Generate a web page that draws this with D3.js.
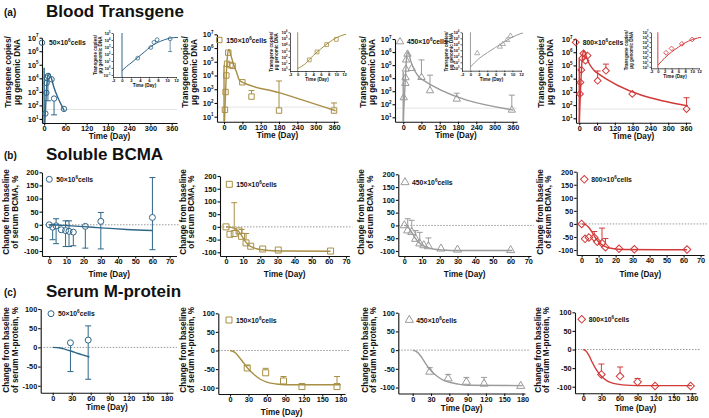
<!DOCTYPE html>
<html><head><meta charset="utf-8">
<script src="https://cdn.jsdelivr.net/npm/d3@7"></script>
<style>body{margin:0;background:#fff}</style>
</head><body>
<svg id="chart" width="709" height="418" xmlns="http://www.w3.org/2000/svg"></svg>
<script>
// ---------------- DATA ----------------
const doseLabels = ["50", "150", "450", "800"];
const doseColors = ["#2e6688", "#a88f45", "#9b9b9b", "#d23a3a"];
const doseMarkers = ["circle", "square", "triangle", "diamond"];

// (a) Blood transgene, copies/µg genomic DNA
const bt50Day = [3.5, 6.4, 7.1, 7.8, 10.7, 21, 28, 56];
const bt50Val = [25, 850, 4500, 11000, 15000, 8500, 320, 55];
const bt50Up  = [null, null, null, null, null, null, null, null];
const bt50Low = [null, null, null, null, 220, null, 20, null];
const bt50FitDay = [0, 1, 2, 3.5, 5, 6.3, 7.5, 8.5, 10, 12, 15, 20, 28, 40, 57];
const bt50FitVal = [0.4, 1.6, 5, 32, 200, 1000, 3200, 6300, 14000, 23000, 22000, 11000, 2000, 320, 40];
const bt50Peak = 60000;

const bt150Day = [3, 5, 7.5, 10, 14, 21, 28, 60, 90, 180, 360];
const bt150Val = [32, 630, 10000, 71000, 460000, 58000, 50000, 3200, 290, 28, 28];
const bt150Up  = [null, null, null, null, null, null, null, null, 800, 4000, 100];
const bt150Low = [null, null, null, null, null, null, null, null, null, null, null];
const bt150FitDay = [0, 2, 4, 6, 8, 10, 12, 16, 22, 30, 40, 52, 180, 365];
const bt150FitVal = [1.3, 8, 160, 2000, 20000, 126000, 400000, 800000, 316000, 79000, 20000, 4000, 560, 27];
const bt150Peak = 56000;

const bt450Day = [1.6, 7, 7.7, 8.7, 9.5, 14, 28, 60, 88, 176, 357];
const bt450Val = [320, 4000, 11000, 50000, 250000, 700000, 56000, 11500, 1100, 250, 36];
const bt450Up  = [null, null, null, null, null, null, null, 250000, 17000, 700, 500];
const bt450Low = [null, null, null, null, null, null, null, null, null, null, null];
const bt450FitDay = [0, 2, 4, 6, 8, 10, 12, 14, 18, 25, 35, 45, 55, 362];
const bt450FitVal = [1.6, 40, 400, 3200, 25000, 160000, 630000, 1000000, 800000, 200000, 50000, 20000, 10000, 36];
const bt450Peak = 30000;

const bt800Day = [2.4, 4, 7, 10, 14, 21, 28, 62, 90, 179, 362];
const bt800Val = [700, 5200, 46000, 350000, 800000, 230000, 560000, 7000, 40000, 700, 50];
const bt800Up  = [null, null, null, null, null, null, null, 38000, 126000, null, 360];
const bt800Low = [null, null, null, null, null, null, null, null, null, null, null];
const bt800FitDay = [0, 2, 4, 6, 8, 10, 13, 17, 22, 30, 40, 54, 367];
const bt800FitVal = [2, 63, 1000, 10000, 80000, 316000, 1000000, 1260000, 630000, 200000, 80000, 34000, 85];
const bt800Peak = 316000;

// (b) Soluble BCMA, % change from baseline
const sb50Day = [0, 2, 4, 7, 9.5, 11.5, 14, 21, 30, 60];
const sb50Val = [0, -9, -4, -19, -22, -25, -28, -6, 13, 28];
const sb50Up  = [null, null, 23, null, 15, 15, null, null, 47, 180];
const sb50Low = [null, -57, -72, null, -83, -83, -80, -89, -92, -95];
const sb50FitDay = [0, 5, 10, 20, 30, 45, 60];
const sb50FitVal = [0, -1, -3, -7, -12, -18, -22];

const sb150Day = [0, 2.3, 4.8, 7.6, 9.1, 11.7, 14.4, 21.4, 30.5, 61];
const sb150Val = [0, -29, -26, -16, -37, -63, -76, -87, -91, -95];
const sb150Up  = [null, null, 95, null, -10, -26, null, null, null, null];
const sb150Low = [null, null, null, null, null, null, null, null, null, null];
const sb150FitDay = [0, 3, 5, 7, 9, 11, 13, 16, 20, 25, 35, 61];
const sb150FitVal = [0, -2, -6, -15, -33, -55, -70, -82, -89, -93, -95, -96];

const sb450Day = [0, 1.9, 4.2, 6.4, 8.7, 11, 13.6, 20.7, 30, 60];
const sb450Val = [0, -20, -26, -53, -71, -78, -82, -91, -95, -97];
const sb450Up  = [null, 26, 20, -20, -27, null, -49, null, null, null];
const sb450Low = [null, null, null, null, null, null, null, null, null, null];
const sb450FitDay = [0, 2, 4, 6, 8, 10, 13, 17, 22, 30, 61];
const sb450FitVal = [0, -5, -25, -48, -65, -76, -86, -93, -96, -98, -98];

const sb800Day = [0, 2, 4.3, 7.4, 9.2, 12, 14, 22, 31, 62];
const sb800Val = [0, -57, -52, -52, -68, -74, -89, -95, -97, -98];
const sb800Up  = [null, null, null, -29, null, -16, -56, null, null, null];
const sb800Low = [null, null, null, null, null, null, null, null, null, null];
const sb800FitDay = [0, 2, 4, 6, 8, 10, 12, 15, 18, 25, 62];
const sb800FitVal = [0, -2, -12, -30, -52, -68, -80, -90, -94, -98, -99];

// (c) Serum M-protein, % change from baseline
const mp50Day = [28, 56];
const mp50Val = [12, 19];
const mp50Up  = [null, 56];
const mp50Low = [-63, -83];
const mp50FitDay = [0, 10, 20, 30, 40, 50, 58];
const mp50FitVal = [0, -1, -5, -10, -16, -21, -25];

const mp150Day = [28, 58, 87, 117, 174];
const mp150Val = [-47, -60, -82, -97, -97];
const mp150Up  = [-41, -48, -70, null, -70];
const mp150Low = [null, null, null, null, null];
const mp150FitDay = [0, 8, 15, 22, 30, 40, 50, 60, 75, 90, 180];
const mp150FitVal = [0, -5, -18, -33, -50, -66, -78, -85, -90, -92, -92];

const mp450Day = [28, 58, 88, 117, 177];
const mp450Val = [-58, -76, -85, -90, -96];
const mp450Up  = [-47, -65, -73, -73, null];
const mp450Low = [null, null, null, null, null];
const mp450FitDay = [0, 8, 15, 22, 30, 40, 50, 60, 75, 90, 180];
const mp450FitVal = [0, -6, -20, -38, -55, -70, -80, -86, -91, -94, -95];

const mp800Day = [30, 61, 90, 119, 178];
const mp800Val = [-67, -72, -87, -98, -98];
const mp800Up  = [-39, -47, -78, null, null];
const mp800Low = [null, null, null, null, null];
const mp800FitDay = [0, 5, 10, 15, 20, 25, 30, 40, 50, 65, 90, 180];
const mp800FitVal = [0, -5, -18, -35, -50, -62, -72, -85, -91, -95, -97, -97];

const transgeneTicks = [1, 2, 3, 4, 5, 6, 7];
const transgeneDayTicks = [0, 60, 120, 180, 240, 300, 360];
const insetDayTicks = [-2, 0, 2, 4, 6, 8, 10, 12];
const bcmaTicks = [-100, -50, 0, 50, 100, 150, 200];
const bcmaDayTicks = [0, 10, 20, 30, 40, 50, 60, 70];
const mprotTicks = [-100, -50, 0, 50, 100];
const mprotDayTicks = [0, 30, 60, 90, 120, 150, 180];

// ---------------- DRAWING ----------------
const FONT = "'Liberation Sans', Arial, Helvetica, sans-serif";
const svg = d3.select("#chart");
const defs = svg.append("defs");
let clipN = 0;

function tenLabel(sel, e, fs) {
  sel.text(null);
  sel.append("tspan").text("10");
  sel.append("tspan").attr("font-size", fs * 0.62).attr("dy", -fs * 0.45).text(e);
}

function marker(g, type, cx, cy, s, color, sw) {
  let path, rot = 0;
  if (type === "circle") path = d3.symbol().type(d3.symbolCircle).size(Math.PI * s * s)();
  else if (type === "square") path = d3.symbol().type(d3.symbolSquare).size(4 * s * s)();
  else if (type === "triangle") path = d3.symbol().type(d3.symbolTriangle).size(3.2 * s * s)();
  else { path = d3.symbol().type(d3.symbolSquare).size(3.2 * s * s)(); rot = 45; }
  g.append("path").attr("d", path)
    .attr("transform", `translate(${cx},${cy}) rotate(${rot})`)
    .attr("fill", "none").attr("stroke", color).attr("stroke-width", sw);
}

function drawPanel(p) {
  const g = svg.append("g");
  const x = d3.scaleLinear().domain(p.xDom).range([p.L, p.R]);
  const y = (p.log ? d3.scaleLog() : d3.scaleLinear()).domain(p.yDom).range([p.B, p.T]);
  const id = "clip" + (clipN++);
  defs.append("clipPath").attr("id", id).append("rect")
    .attr("x", p.L).attr("y", p.T - 2).attr("width", p.R - p.L + 2).attr("height", p.B - p.T + 2);

  if (p.ref !== undefined) {
    g.append("line").attr("x1", p.L).attr("x2", p.refEnd)
      .attr("y1", y(p.ref)).attr("y2", y(p.ref))
      .attr("stroke", p.refColor).attr("stroke-width", p.refW || 1)
      .attr("stroke-dasharray", p.refDash || null);
  }

  const xa = g.append("g").attr("transform", `translate(0,${p.B})`)
    .call(d3.axisBottom(x).tickValues(p.xTicks).tickSize(p.tk).tickSizeOuter(0)
      .tickPadding(p.pad).tickFormat(d => String(d)));
  const ya = g.append("g").attr("transform", `translate(${p.L},0)`)
    .call(d3.axisLeft(y).tickValues(p.log ? p.yTicks.map(e => Math.pow(10, e)) : p.yTicks)
      .tickSize(p.tk).tickSizeOuter(0).tickPadding(p.pad + 0.5).tickFormat(d => String(d)));
  [xa, ya].forEach(a => {
    a.attr("font-family", FONT).attr("font-weight", "bold").attr("font-size", p.fs);
    a.selectAll("path,line").attr("stroke", "#111").attr("stroke-width", p.aw);
    a.selectAll("text").attr("fill", "#111");
  });
  if (p.log) {
    ya.selectAll(".tick text").each(function (d) {
      tenLabel(d3.select(this), Math.round(Math.log10(d)), p.fs);
    });
  }

  if (p.xTitle) {
    g.append("text").attr("x", (p.L + p.R) / 2).attr("y", p.xTitleY)
      .attr("text-anchor", "middle").attr("font-family", FONT).attr("font-weight", "bold")
      .attr("font-size", p.tfs).attr("fill", "#111").text(p.xTitle);
  }
  if (p.yTitle) {
    p.yTitle.forEach((t, i) => {
      g.append("text").attr("transform", `translate(${p.yTitleX + i * p.yTitleGap},${p.yTitleY}) rotate(-90)`)
        .attr("text-anchor", "middle").attr("dominant-baseline", "central")
        .attr("font-family", FONT).attr("font-weight", "bold")
        .attr("font-size", p.tfs).attr("fill", "#111").text(t);
    });
  }

  const color = p.color;
  const plot = g.append("g").attr("clip-path", `url(#${id})`);

  if (p.peak) {
    plot.append("line").attr("x1", x(0)).attr("x2", x(0)).attr("y1", p.B).attr("y2", y(p.peak))
      .attr("stroke", color).attr("stroke-width", p.lw);
  }
  const fit = p.fitDay.map((d, i) => [d, p.fitVal[i]]).filter(d => d[0] <= p.xDom[1] + 5);
  const yy = v => p.log ? y(Math.max(v, p.yDom[0] * 0.3)) : y(v);
  plot.append("path").datum(fit)
    .attr("d", d3.line().x(d => x(d[0])).y(d => yy(d[1])).curve(d3.curveMonotoneX))
    .attr("fill", "none").attr("stroke", color).attr("stroke-width", p.lw);

  const pg = g.append("g");
  p.day.forEach((d, i) => {
    if (d > p.xDom[1]) return;
    const cx = x(d), cy = y(p.val[i]);
    const ends = [];
    if (p.up[i] !== null && p.up[i] !== undefined) ends.push([p.up[i], -1]);
    if (p.low && p.low[i] !== null && p.low[i] !== undefined) ends.push([p.low[i], 1]);
    ends.forEach(([v, dir]) => {
      const ye = Math.max(Math.min(y(v), p.B), p.T - 6);
      pg.append("line").attr("x1", cx).attr("x2", cx).attr("y1", cy + dir * p.ms).attr("y2", ye)
        .attr("stroke", color).attr("stroke-width", p.ew);
      pg.append("line").attr("x1", cx - p.cap).attr("x2", cx + p.cap).attr("y1", ye).attr("y2", ye)
        .attr("stroke", color).attr("stroke-width", p.ew);
    });
    marker(pg, p.marker, cx, cy, p.ms, color, p.msw);
  });

  if (p.legX !== undefined) {
    marker(g, p.marker, p.legX, p.legY, p.ms, color, p.msw);
    const t = g.append("text").attr("x", p.legX + p.legDx).attr("y", p.legY + 2.5)
      .attr("font-family", FONT).attr("font-weight", "bold").attr("font-size", 6.8).attr("fill", "#111");
    t.append("tspan").text(p.dose + "\u00d710");
    t.append("tspan").attr("font-size", 4.6).attr("dy", -3).text("6");
    t.append("tspan").attr("dy", 3).text("cells");
  }
}

[["(a)", "Blood Transgene", 17], ["(b)", "Soluble BCMA", 160], ["(c)", "Serum M-protein", 297]].forEach(([l, t, yb]) => {
  svg.append("text").attr("x", 4).attr("y", yb - 1).attr("font-family", FONT).attr("font-weight", "bold")
    .attr("font-size", 10).attr("fill", "#111").text(l);
  svg.append("text").attr("x", 46).attr("y", yb).attr("font-family", FONT).attr("font-weight", "bold")
    .attr("font-size", 17).attr("fill", "#111").text(t);
});

const btData = [
  [bt50Day, bt50Val, bt50Up, bt50Low, bt50FitDay, bt50FitVal, bt50Peak],
  [bt150Day, bt150Val, bt150Up, bt150Low, bt150FitDay, bt150FitVal, bt150Peak],
  [bt450Day, bt450Val, bt450Up, bt450Low, bt450FitDay, bt450FitVal, bt450Peak],
  [bt800Day, bt800Val, bt800Up, bt800Low, bt800FitDay, bt800FitVal, bt800Peak]
];
const sbData = [
  [sb50Day, sb50Val, sb50Up, sb50Low, sb50FitDay, sb50FitVal],
  [sb150Day, sb150Val, sb150Up, sb150Low, sb150FitDay, sb150FitVal],
  [sb450Day, sb450Val, sb450Up, sb450Low, sb450FitDay, sb450FitVal],
  [sb800Day, sb800Val, sb800Up, sb800Low, sb800FitDay, sb800FitVal]
];
const mpData = [
  [mp50Day, mp50Val, mp50Up, mp50Low, mp50FitDay, mp50FitVal],
  [mp150Day, mp150Val, mp150Up, mp150Low, mp150FitDay, mp150FitVal],
  [mp450Day, mp450Val, mp450Up, mp450Low, mp450FitDay, mp450FitVal],
  [mp800Day, mp800Val, mp800Up, mp800Low, mp800FitDay, mp800FitVal]
];

const aLay = [
  {L: 42, R: 177, xDom: [-6, 375], T: 37.7, B: 123, yLo: 0.7, yt: [8, 17.5], leg: [42, 42.7], xt: 139},
  {L: 217, R: 338, xDom: [-23, 373], T: 34.3, B: 121.7, yLo: 0.636, yt: [185, 194], leg: [219.3, 40], xt: 138},
  {L: 395, R: 517, xDom: [-27, 374], T: 39, B: 121.7, yLo: 0.663, yt: [363.3, 372], leg: [400, 41.7], xt: 138},
  {L: 576, R: 690.7, xDom: [-11, 376], T: 39, B: 122.7, yLo: 0.667, yt: [541.7, 550.3], leg: [575.7, 42.3], xt: 139}
];
const inLay = [
  {L: 113, R: 176, T: 33, B: 77, yLo: -1.3, yHi: 5, yTicks: [-1, 0, 1, 2, 3, 4, 5], yt: 95},
  {L: 290, R: 344, T: 32.3, B: 71, yLo: -0.3, yHi: 6, yTicks: [0, 1, 2, 3, 4, 5, 6], yt: 271},
  {L: 462, R: 521, T: 32.3, B: 70.7, yLo: -0.4, yHi: 6, yTicks: [0, 1, 2, 3, 4, 5, 6], yt: 446.5},
  {L: 651, R: 699, T: 32.3, B: 68.3, yLo: -0.3, yHi: 7, yTicks: [0, 1, 2, 3, 4, 5, 6, 7], yt: 626}
];
const bLay = [
  {L: 42, R: 176.5, xDom: [-4.2, 74], T: 172.3, B: 256, yDom: [-119, 200], yt: [6.7, 15.2], leg: [49.3, 179.3]},
  {L: 220, R: 349.4, xDom: [-3.5, 72], T: 176, B: 256, yDom: [-114.5, 200], yt: [183.3, 191.5], leg: [229.3, 184.3]},
  {L: 398.3, R: 531, xDom: [-3.4, 71.5], T: 174.3, B: 256, yDom: [-119.6, 200], yt: [361.7, 370], leg: [405, 182.3]},
  {L: 576.7, R: 704, xDom: [-2.9, 72], T: 171.7, B: 255, yDom: [-119, 200], yt: [540, 548.3], leg: [584.3, 179.3]}
];
const cLay = [
  {L: 40.7, R: 173, xDom: [-19, 190], T: 309, B: 392.7, yDom: [-118, 100], yt: [6.7, 15.2], leg: [51, 313.7], xt: 410},
  {L: 218.3, R: 345, xDom: [-19, 187], T: 313.3, B: 394, yDom: [-117, 100], yt: [183.3, 191.5], leg: [229, 320], xt: 414.5},
  {L: 398.3, R: 525, xDom: [-23.6, 184], T: 312.7, B: 393.5, yDom: [-116, 100], yt: [365, 373], leg: [409.3, 320], xt: 410.5},
  {L: 575, R: 696, xDom: [-13.8, 187], T: 312.3, B: 393.3, yDom: [-117.7, 100], yt: [538.3, 546.5], leg: [581.7, 319.3], xt: 411}
];

const common = {tk: 2.5, pad: 0.5, fs: 7.3, tfs: 8.2, aw: 1.1, lw: 1.4, ew: 1, cap: 3, msw: 1};

for (let k = 0; k < 4; k++) {
  const [day, val, up, low, fd, fv, peak] = btData[k];
  const a = aLay[k];
  drawPanel(Object.assign({}, common, {
    L: a.L, R: a.R, T: a.T, B: a.B, xDom: a.xDom, log: true,
    yDom: [Math.pow(10, a.yLo), 1e7], yTicks: transgeneTicks, xTicks: transgeneDayTicks,
    xTitle: "Time (Day)", xTitleY: a.xt,
    yTitle: ["Transgene copies/", "\u03bcg genomic DNA"], yTitleX: a.yt[0], yTitleGap: a.yt[1] - a.yt[0], yTitleY: 72,
    ref: 50, refEnd: a.R, refColor: "#e4e4e4",
    color: doseColors[k], marker: doseMarkers[k], ms: 2.7, dose: doseLabels[k],
    day, val, up, low, fitDay: fd, fitVal: fv, peak,
    legX: a.leg[0], legY: a.leg[1], legDx: 7
  }));
  const n = inLay[k];
  const sel = day.map((d, i) => i).filter(i => day[i] <= 12);
  drawPanel(Object.assign({}, common, {
    L: n.L, R: n.R, T: n.T, B: n.B, xDom: [-2, 12], log: true,
    yDom: [Math.pow(10, n.yLo), Math.pow(10, n.yHi)], yTicks: n.yTicks, xTicks: insetDayTicks,
    tk: 1.5, pad: 0.5, fs: 4.2, tfs: 4.6, aw: 0.7, lw: 1, ew: 0.7, cap: 2, msw: 0.8,
    xTitle: "Time (Day)", xTitleY: n.B + 10,
    yTitle: ["Transgene copies/", "\u03bcg genomic DNA"], yTitleX: n.yt, yTitleGap: 5, yTitleY: (n.T + n.B) / 2,
    color: doseColors[k], marker: doseMarkers[k], ms: 1.9,
    day: sel.map(i => day[i]), val: sel.map(i => val[i]), up: sel.map(i => up[i]), low: sel.map(i => low[i]),
    fitDay: fd, fitVal: fv, peak: Math.pow(10, n.yHi)
  }));
}

for (let k = 0; k < 4; k++) {
  const [day, val, up, low, fd, fv] = sbData[k];
  const b = bLay[k];
  drawPanel(Object.assign({}, common, {
    L: b.L, R: b.R, T: b.T, B: b.B, xDom: b.xDom, yDom: b.yDom, yTicks: bcmaTicks, xTicks: bcmaDayTicks,
    xTitle: "Time (Day)", xTitleY: 276.5,
    yTitle: ["Change from baseline", "of serum BCMA, %"], yTitleX: b.yt[0], yTitleGap: b.yt[1] - b.yt[0], yTitleY: 212,
    ref: 0, refEnd: b.R + 3, refColor: "#9a9a9a", refDash: "1.5,1.5",
    color: doseColors[k], marker: doseMarkers[k], ms: 3, dose: doseLabels[k],
    day, val, up, low, fitDay: fd, fitVal: fv,
    legX: b.leg[0], legY: b.leg[1], legDx: 7
  }));
}

for (let k = 0; k < 4; k++) {
  const [day, val, up, low, fd, fv] = mpData[k];
  const c = cLay[k];
  drawPanel(Object.assign({}, common, {
    L: c.L, R: c.R, T: c.T, B: c.B, xDom: c.xDom, yDom: c.yDom, yTicks: mprotTicks, xTicks: mprotDayTicks,
    xTitle: "Time (Day)", xTitleY: c.xt,
    yTitle: ["Change from baseline", "of serum M-protein, %"], yTitleX: c.yt[0], yTitleGap: c.yt[1] - c.yt[0], yTitleY: 350,
    ref: 0, refEnd: c.R + 4, refColor: "#9a9a9a", refDash: "1.5,1.5",
    color: doseColors[k], marker: doseMarkers[k], ms: 3, dose: doseLabels[k],
    day, val, up, low, fitDay: fd, fitVal: fv,
    legX: c.leg[0], legY: c.leg[1], legDx: 7
  }));
}
</script>
</body></html>
